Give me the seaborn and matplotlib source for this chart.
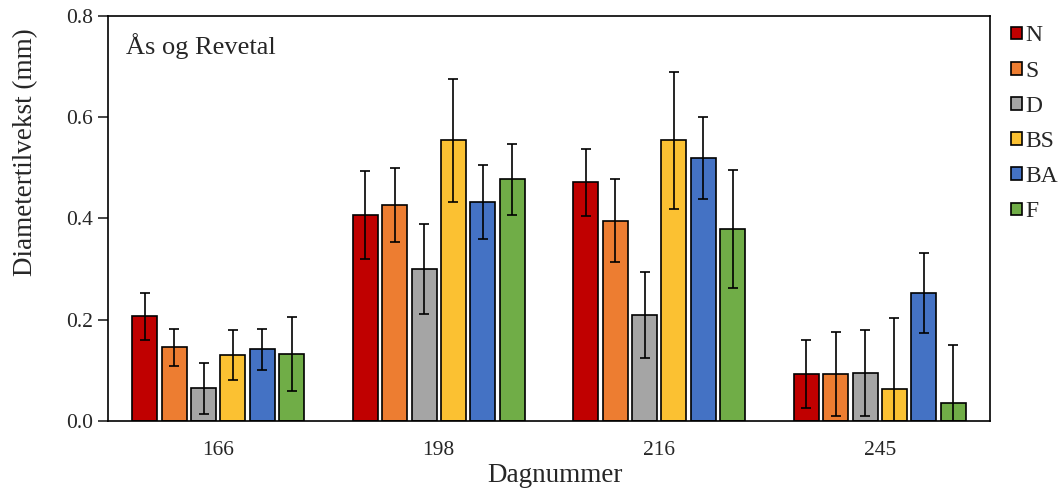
import pandas as pd
import matplotlib.pyplot as plt
import seaborn as sns

# Data
days = ["166", "198", "216", "245"]
treatments = ["N", "S", "D", "BS", "BA", "F"]
colors = ["#C00000", "#ED7D31", "#A5A5A5", "#FBC132", "#4472C4", "#70AD47"]

means = {
    "N":  [0.206, 0.406, 0.471, 0.092],
    "S":  [0.145, 0.427, 0.395, 0.092],
    "D":  [0.064, 0.300, 0.208, 0.094],
    "BS": [0.130, 0.554, 0.554, 0.063],
    "BA": [0.141, 0.432, 0.519, 0.253],
    "F":  [0.132, 0.477, 0.379, 0.034],
}
errors = {
    "N":  [0.047, 0.087, 0.067, 0.067],
    "S":  [0.036, 0.073, 0.082, 0.083],
    "D":  [0.050, 0.089, 0.085, 0.085],
    "BS": [0.050, 0.121, 0.135, 0.140],
    "BA": [0.040, 0.073, 0.081, 0.079],
    "F":  [0.073, 0.070, 0.117, 0.116],
}

# Long-form table
rows = []
for t in treatments:
    for d, m, e in zip(days, means[t], errors[t]):
        rows.append({"Dag": d, "Behandling": t, "verdi": m, "feil": e})
df = pd.DataFrame(rows)

sns.set_style("white")
plt.rcParams["font.family"] = ["Liberation Serif", "DejaVu Serif"]

fig = plt.figure(figsize=(10.61, 4.93), dpi=100)
ax = fig.add_axes([0.1018, 0.1467, 0.8313, 0.8208])

sns.barplot(data=df, x="Dag", y="verdi", hue="Behandling", order=days,
            hue_order=treatments, palette=colors, errorbar=None,
            width=0.8, gap=0.15, edgecolor="black", linewidth=1.2,
            saturation=1, ax=ax)

# Error bars at the bar centres seaborn placed
for cont, t in zip(ax.containers, treatments):
    xs = [p.get_x() + p.get_width() / 2 for p in cont.patches]
    ys = [p.get_height() for p in cont.patches]
    ax.errorbar(xs, ys, yerr=df.loc[df["Behandling"] == t, "feil"].values,
                fmt="none", ecolor="black", elinewidth=1.2, capsize=3.3,
                capthick=1.2, zorder=5)

ax.set_ylim(0, 0.8)
ax.set_xlim(-0.5, 3.5)
ax.set_yticks([0.0, 0.2, 0.4, 0.6, 0.8])
ax.set_yticklabels(["0.0", "0.2", "0.4", "0.6", "0.8"])
ax.tick_params(axis="y", which="major", left=True, length=7, width=1.2,
               labelsize=15.5, pad=4)
ax.tick_params(axis="x", bottom=False, labelsize=15.5, pad=11)
for s in ax.spines.values():
    s.set_visible(True)
    s.set_color("black")
    s.set_linewidth(1.2)

ax.set_xlabel("Dagnummer", fontsize=19.5)
ax.set_ylabel("Diametertilvekst (mm)", fontsize=19.5)
ax.xaxis.set_label_coords(0.507, -0.104)
ax.yaxis.set_label_coords(-0.079, 0.664)
ax.text(0.02, 0.925, "Ås og Revetal", transform=ax.transAxes,
        fontsize=19, va="center", ha="left")

handles, labels = ax.get_legend_handles_labels()
ax.legend(handles, labels, loc="upper left", bbox_to_anchor=(1.013, 1.0),
          frameon=False, fontsize=17, handlelength=0.45, handleheight=0.45,
          handletextpad=0.15, labelspacing=0.6, borderaxespad=0)

plt.savefig("out.png", dpi=100)
